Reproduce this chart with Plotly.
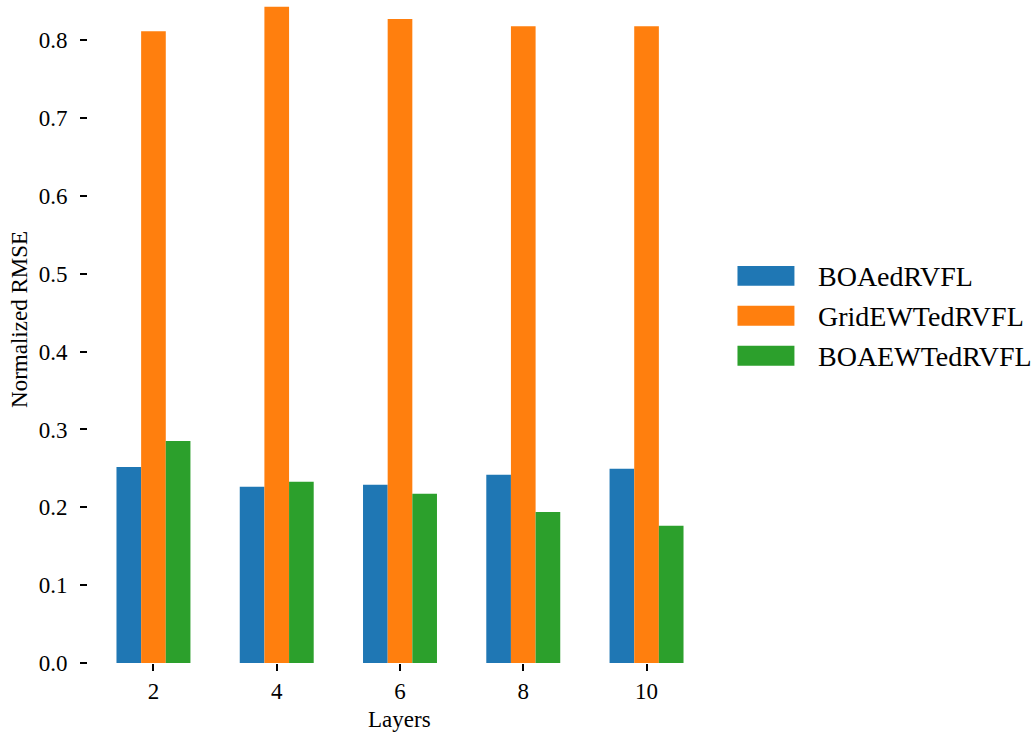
import plotly.graph_objects as go

layers = ["2", "4", "6", "8", "10"]
series_names = ["BOAedRVFL", "GridEWTedRVFL", "BOAEWTedRVFL"]
boaed = [0.2517, 0.2263, 0.2289, 0.2417, 0.2494]
gridewt = [0.8116, 0.8430, 0.8272, 0.8180, 0.8180]
boaewt = [0.2853, 0.2327, 0.2173, 0.1940, 0.1763]
colors = ["#1f77b4", "#ff7f0e", "#2ca02c"]

W, H = 1035, 735
L, R = 88.0, 712.5          # plot area left/right in px
T, B = 6.0, 663.3           # plot area top/bottom in px
FONT = "Liberation Serif, Times New Roman, serif"

def px_x(px):
    return (px - L) / (R - L)

def px_y(py):
    return (B - py) / (B - T)

fig = go.Figure()
for name, vals, c in zip(series_names, [boaed, gridewt, boaewt], colors):
    fig.add_trace(go.Bar(x=layers, y=vals, name=name, marker=dict(color=c, line=dict(width=0)),
                         showlegend=False))

fig.update_layout(
    width=W, height=H,
    margin=dict(l=L, r=W - R, t=T, b=H - B, pad=0),
    paper_bgcolor="white", plot_bgcolor="white",
    barmode="group", bargap=0.4, bargroupgap=0,
    font=dict(family=FONT, size=23, color="black"),
)
fig.update_xaxes(type="category", range=[-0.531, 4.531], showline=False, showgrid=False,
                 zeroline=False, ticks="outside", ticklen=7, tickwidth=1.6, tickcolor="black",
                 tickfont=dict(family=FONT, size=23, color="black"))
fig.update_yaxes(range=[0, (B - T) / 778.9], showline=False, showgrid=False, zeroline=False,
                 ticks="outside", ticklen=7, tickwidth=1.6, tickcolor="black",
                 tickvals=[0, 0.1, 0.2, 0.3, 0.4, 0.5, 0.6, 0.7, 0.8],
                 ticktext=["0.0", "0.1", "0.2", "0.3", "0.4", "0.5", "0.6", "0.7", "0.8"],
                 ticklabelstandoff=8,
                 tickfont=dict(family=FONT, size=23, color="black"))

# axis titles
fig.add_annotation(text="Layers", xref="paper", yref="paper", x=px_x(400), y=px_y(720),
                   xanchor="center", yanchor="middle", showarrow=False,
                   font=dict(family=FONT, size=23, color="black"))
fig.add_annotation(text="Normalized RMSE", xref="paper", yref="paper", x=px_x(20), y=px_y(320),
                   xanchor="center", yanchor="middle", showarrow=False, textangle=-90,
                   font=dict(family=FONT, size=23, color="black"))

# legend (drawn manually to match large swatches)
for i, (name, c) in enumerate(zip(series_names, colors)):
    cy = 276 + 40 * i
    fig.add_shape(type="rect", xref="paper", yref="paper",
                  x0=px_x(738), x1=px_x(795), y0=px_y(cy - 10), y1=px_y(cy + 10),
                  fillcolor=c, line=dict(width=0))
    fig.add_annotation(text=name, xref="paper", yref="paper", x=px_x(817), y=px_y(cy + 1),
                       xanchor="left", yanchor="middle", showarrow=False,
                       font=dict(family=FONT, size=28, color="black"))

fig.write_html("out.html", config={"displayModeBar": False},
               post_script="document.body.style.margin='0';document.body.style.overflow='hidden';")
